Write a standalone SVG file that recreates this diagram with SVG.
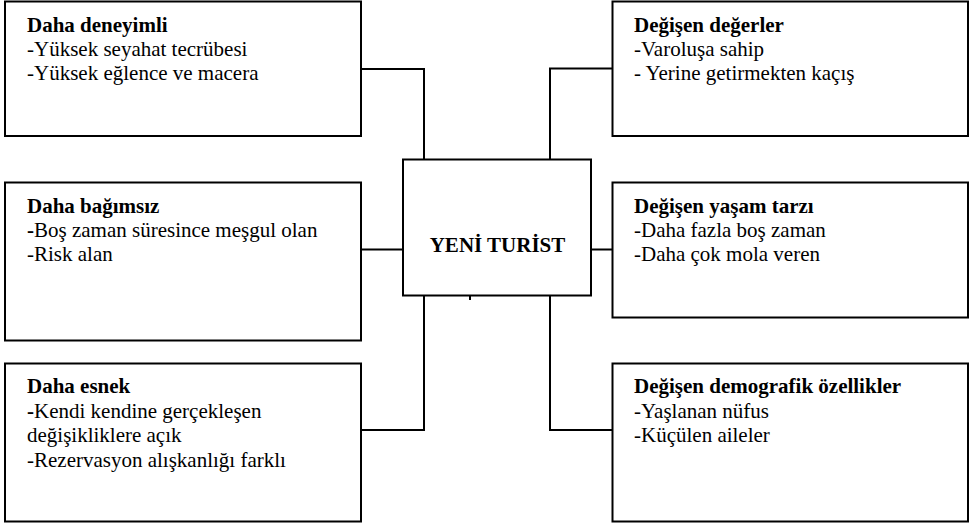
<svg xmlns="http://www.w3.org/2000/svg" width="971" height="526" viewBox="0 0 971 526">
<style>
.box{fill:#fff;stroke:#000;stroke-width:2}
.ln{fill:none;stroke:#000;stroke-width:2}
text{font-family:"Liberation Serif","Times New Roman",serif;font-size:21px;fill:#000}
.b{font-weight:bold}
</style>
<rect width="971" height="526" fill="#fff"/>
<g id="connectors">
<polyline class="ln" points="361,69 424,69 424,160"/>
<polyline class="ln" points="612,68.5 550,68.5 550,160"/>
<line class="ln" x1="361" y1="249.5" x2="403" y2="249.5"/>
<line class="ln" x1="591" y1="249.5" x2="612" y2="249.5"/>
<polyline class="ln" points="361,430 424,430 424,295"/>
<polyline class="ln" points="612,430 550,430 550,295"/>
<line class="ln" x1="470" y1="295" x2="470" y2="300"/>
</g>
<g id="center">
<rect class="box" x="403" y="159.5" width="188" height="136"/>
<text class="b" x="497.5" y="251.5" text-anchor="middle">YENİ TURİST</text>
</g>
<g id="n1">
<rect class="box" x="5" y="1.5" width="356" height="134.5"/>
<text x="27" y="32"><tspan class="b">Daha deneyimli</tspan><tspan x="27" y="56">-Yüksek seyahat tecrübesi</tspan><tspan x="27" y="80">-Yüksek eğlence ve macera</tspan></text>
</g>
<g id="n2">
<rect class="box" x="5" y="182.5" width="356" height="158"/>
<text x="27" y="212.5"><tspan class="b">Daha bağımsız</tspan><tspan x="27" y="236.5"><tspan class="b">-</tspan>Boş zaman süresince meşgul olan</tspan><tspan x="27" y="260.5">-Risk alan</tspan></text>
</g>
<g id="n3">
<rect class="box" x="5" y="363.5" width="356" height="158"/>
<text x="27" y="393"><tspan class="b">Daha esnek</tspan><tspan x="27" y="417.5"><tspan class="b">-</tspan>Kendi kendine gerçekleşen</tspan><tspan x="27" y="442">değişikliklere açık</tspan><tspan x="27" y="466.5">-Rezervasyon alışkanlığı farklı</tspan></text>
</g>
<g id="n4">
<rect class="box" x="612.5" y="1.5" width="355.5" height="134.5"/>
<text x="634" y="32"><tspan class="b">Değişen değerler</tspan><tspan x="634" y="56">-Varoluşa sahip</tspan><tspan x="634" y="80">- Yerine getirmekten kaçış</tspan></text>
</g>
<g id="n5">
<rect class="box" x="612.5" y="182.5" width="355.5" height="135"/>
<text x="634" y="212.5"><tspan class="b">Değişen yaşam tarzı</tspan><tspan x="634" y="236.5">-Daha fazla boş zaman</tspan><tspan x="634" y="260.5">-Daha çok mola veren</tspan></text>
</g>
<g id="n6">
<rect class="box" x="612.5" y="363.5" width="355.5" height="158"/>
<text x="634" y="393"><tspan class="b">Değişen demografik özellikler</tspan><tspan x="634" y="417.5">-Yaşlanan nüfus</tspan><tspan x="634" y="442">-Küçülen aileler</tspan></text>
</g>
</svg>
